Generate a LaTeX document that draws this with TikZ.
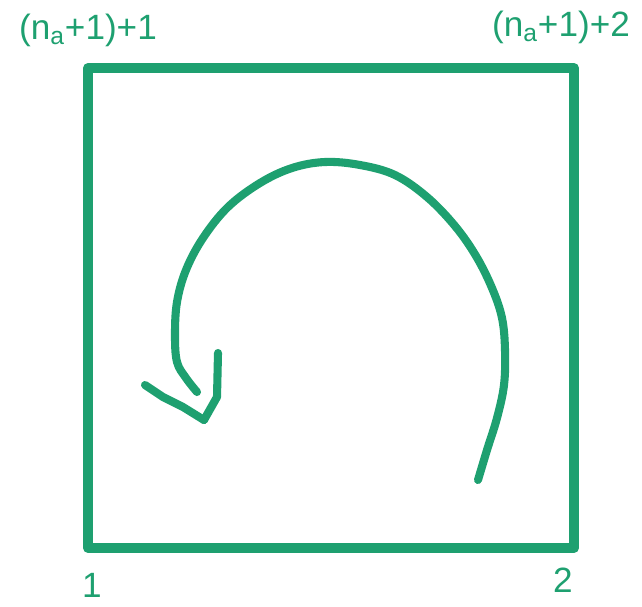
\documentclass[tikz,border=0pt]{standalone}
\usepackage{fontspec}
\setmainfont{Liberation Sans}
\usepackage{tikz}
\usetikzlibrary{positioning}
\definecolor{pen}{RGB}{30,160,112}

\begin{document}
\begin{tikzpicture}[
  x=0.02cm, y=-0.02cm,
  ink/.style={draw=pen, line width=5.6pt, line cap=round, line join=round},
  stroke/.style={draw=pen, line width=4.6pt, line cap=round, line join=round},
  lab/.style={text=pen, inner sep=0pt, font=\fontsize{20}{22}\selectfont}
]
\useasboundingbox (0,0) rectangle (642,606);

% corners of the square
\coordinate (c1) at (88,548);
\coordinate (c2) at (574,548);
\coordinate (c3) at (574,68);
\coordinate (c4) at (88,68);
\draw[ink] (c1) -- (c2) -- (c3) -- (c4) -- cycle;

\node[lab] (l1) at (92,585) {1};
\node[lab] (l2) at (563,580) {2};
\node[lab] (l4) at (88,30) {(n\textsubscript{a}+1)+1};
\node[lab] (l3) at (561,27) {(n\textsubscript{a}+1)+2};

% turning arrow
\coordinate (tail) at (478,480);
\coordinate (head) at (204,420);
\draw[stroke] (tail) plot[smooth, tension=0.6] coordinates {
  (478,480) (487,450) (497,418) (504,385) (505,350) (502,318)
  (492,288) (476,256) (455,226) (427,197) (395,175) (360,165)
  (325,162) (292,168) (260,183) (228,207) (203,238) (186,270)
  (177,302) (175,335) (177,362) (186,378) (197,392)};
\draw[stroke] (218,353) -- (217,397) -- (head);
\draw[stroke] (145,385) -- (163,397) -- (183,407) -- (head);
\end{tikzpicture}
\end{document}
